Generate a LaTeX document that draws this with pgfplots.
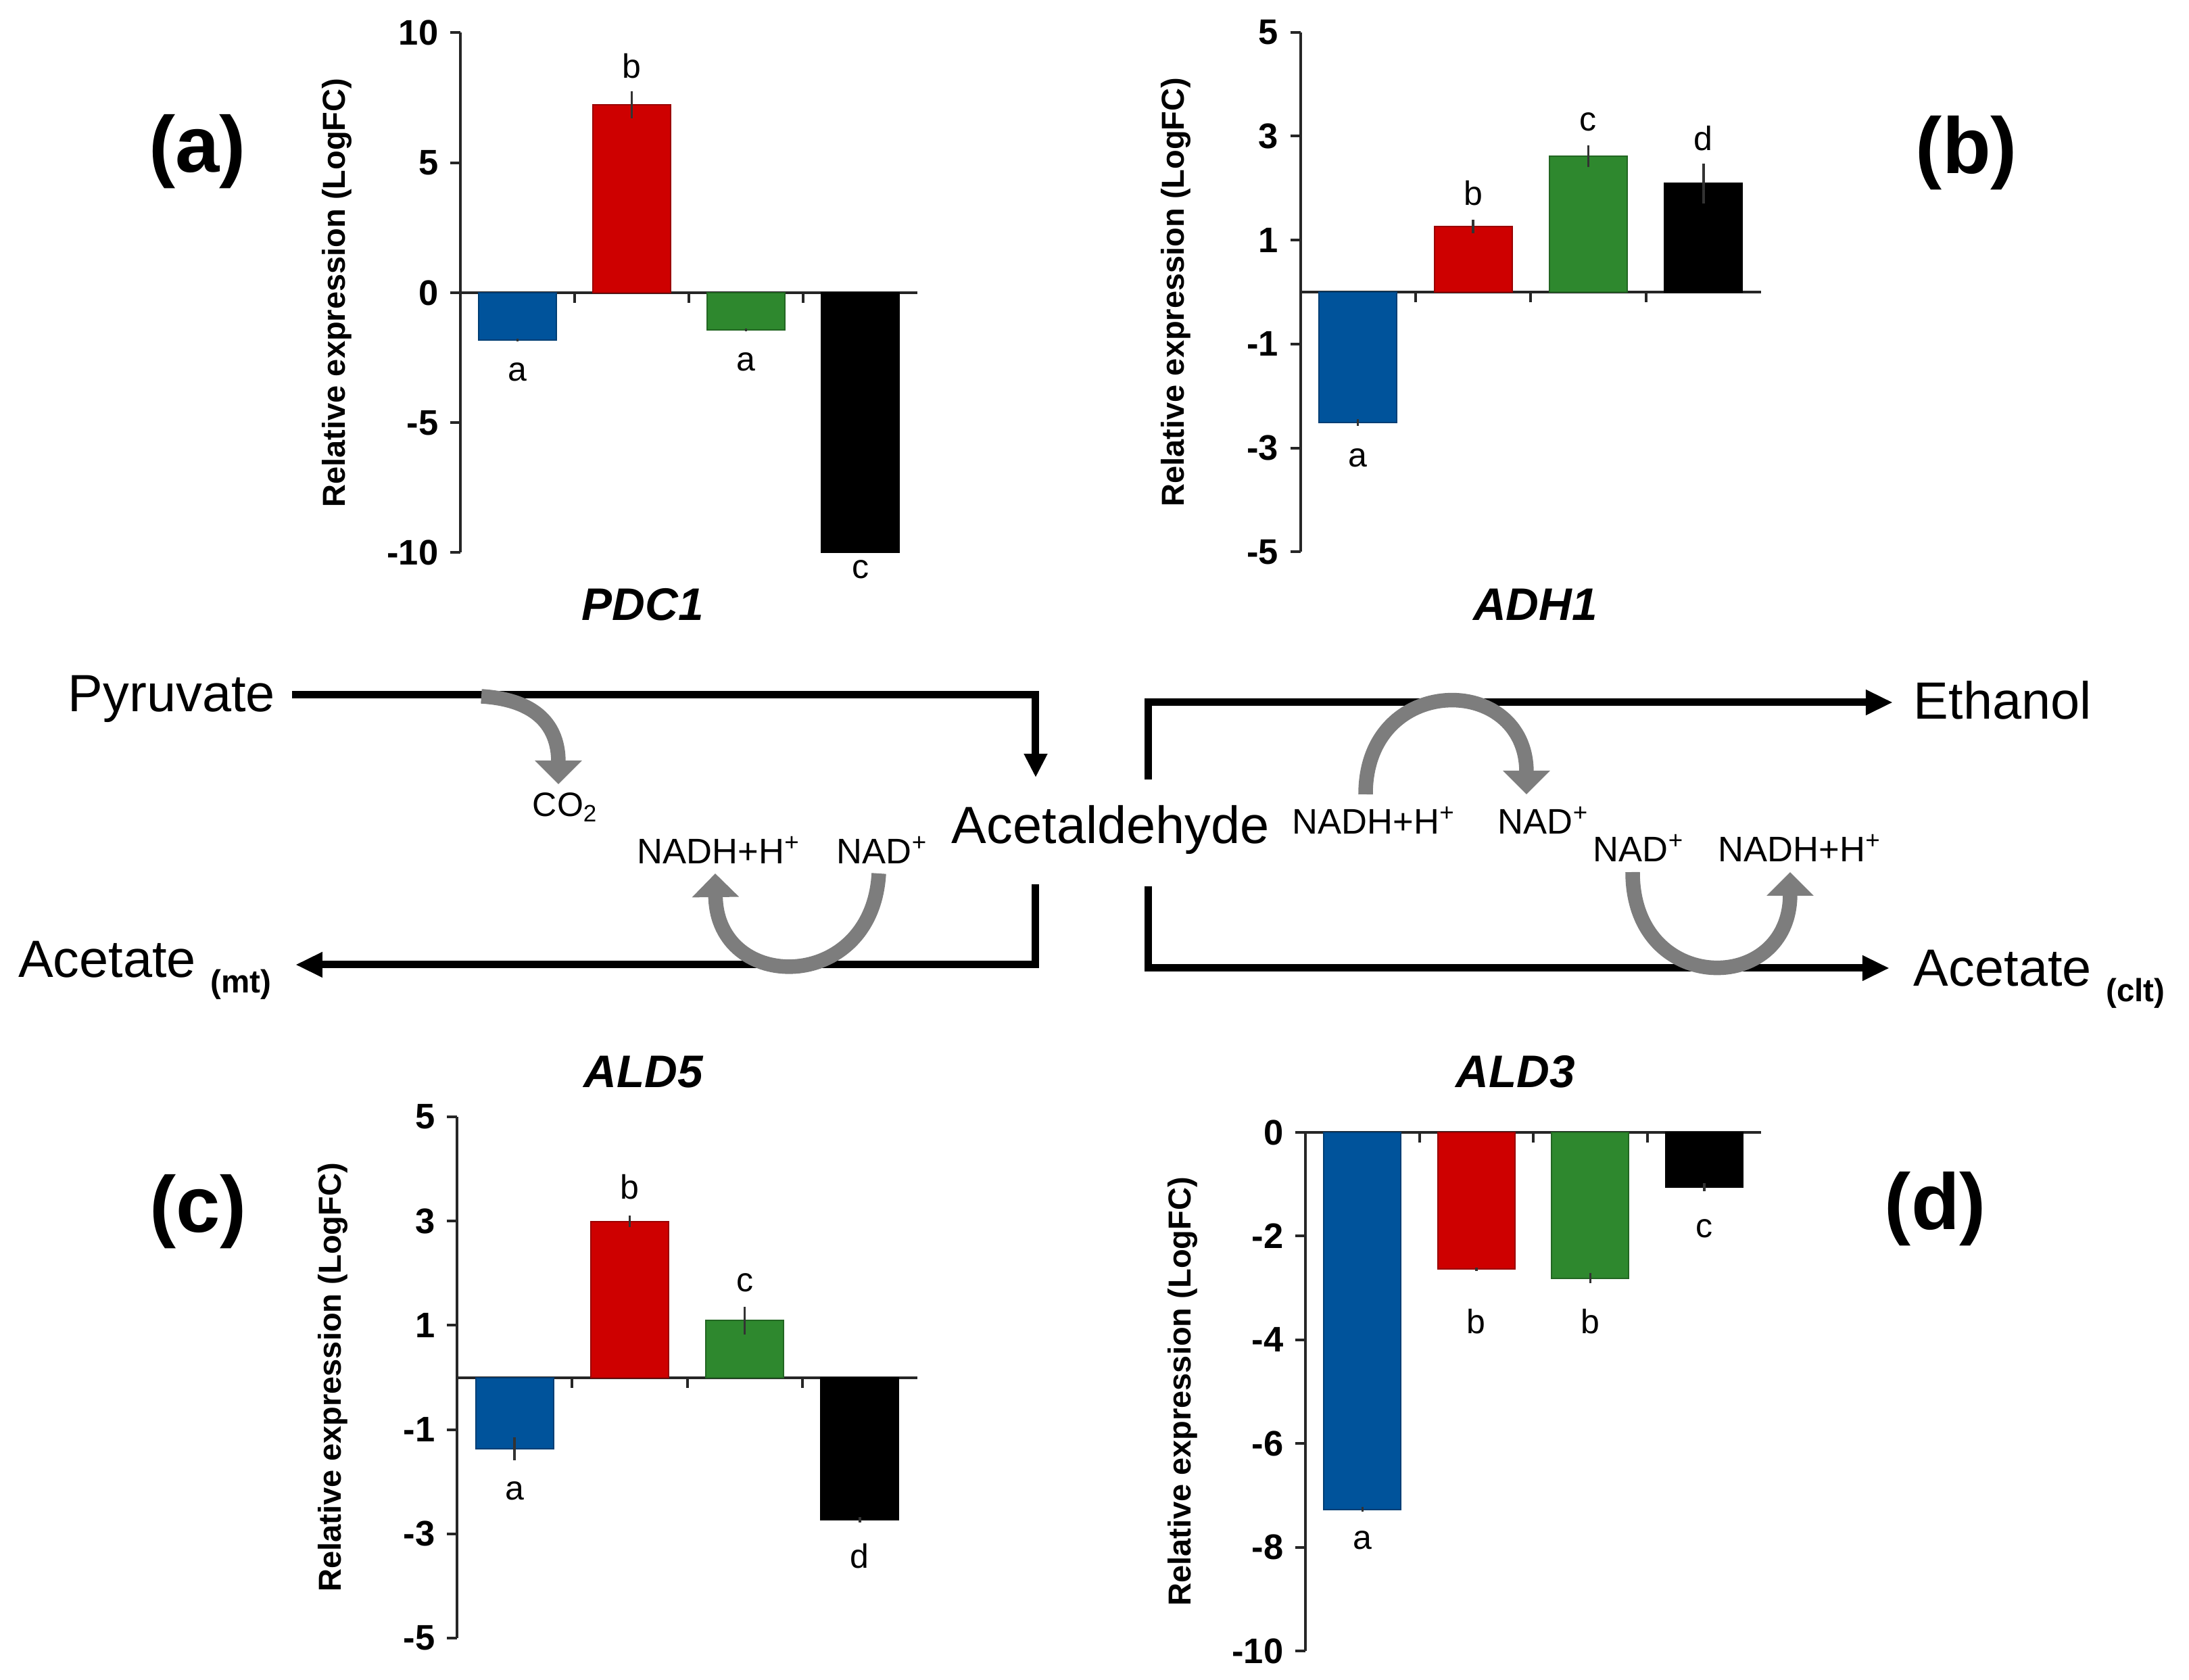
\documentclass[border=0pt]{standalone}
\usepackage{fontspec}
\setmainfont{Liberation Sans}
\usepackage{pgfplots}
\pgfplotsset{compat=1.18}
\usetikzlibrary{arrows.meta}

\definecolor{cblue}{RGB}{0,83,155}
\definecolor{cred}{RGB}{206,0,0}
\definecolor{cgreen}{RGB}{46,136,46}
\definecolor{cblack}{RGB}{0,0,0}
\definecolor{arrgray}{RGB}{125,125,125}

\pgfplotsset{
  gene/.style={
    scale only axis, height=153.8pt,
    anchor=south west,
    xmin=0.5, xmax=4.5,
    axis y line*=left, axis x line*=middle,
    xtick={1.5,2.5,3.5}, xticklabels={},
    tick align=outside, major tick length=3pt,
    axis line style={line width=0.8pt, black!85},
    every tick/.style={line width=0.8pt, black!85},
    yticklabel style={font=\fontsize{10.5}{12}\selectfont\bfseries},
    ylabel={Relative expression (LogFC)},
    ylabel style={font=\fontsize{9.4}{11}\selectfont\bfseries,
      at={(axis description cs:-0.27,0.5)}, anchor=center},
    clip=false,
  },
  gbar/.style={ybar, bar shift=0pt, bar width=0.675, fill=#1,
    draw=#1!75!black, line width=0.4pt,
    error bars/.cd, y dir=both, y explicit, error mark=none,
    error bar style={line width=0.7pt, black!80}},
}
\tikzset{
  let/.style={font=\fontsize{10}{11}\selectfont, inner sep=0pt, anchor=center},
  big/.style={font=\fontsize{15.5}{18}\selectfont, inner sep=0pt, anchor=base west},
  mid/.style={font=\fontsize{10.5}{12}\selectfont, inner sep=0pt, anchor=base west},
  gene title/.style={font=\fontsize{13.5}{15}\selectfont\bfseries\itshape, inner sep=0pt, anchor=base},
  panel/.style={font=\fontsize{23.5}{27}\selectfont\bfseries, inner sep=0pt, anchor=center},
  path line/.style={line width=2.2pt, line join=miter},
  gray arrow/.style={arrgray, line width=4.3pt, -{Triangle[length=7pt,width=13.5pt]}},
}
\newcommand{\sub}[1]{\raisebox{-4.5pt}{\fontsize{9.5}{10}\selectfont\bfseries #1}}

\begin{document}
\begin{tikzpicture}
\path[use as bounding box] (0,0) rectangle (647.6pt,-497pt);

% (a) PDC1
\begin{axis}[gene, width=135.2pt, at={(136.2pt,-163.5pt)},
  ymin=-10, ymax=10, ytick={-10,-5,0,5,10}, yticklabels={-10,-5,0,5,10}]
\addplot[gbar=cblue] coordinates {(1,-1.82) +- (0,0.05)};
\addplot[gbar=cred] coordinates {(2,7.23) +- (0,0.52)};
\addplot[gbar=cgreen] coordinates {(3,-1.42) +- (0,0.05)};
\addplot[gbar=cblack] coordinates {(4,-10) +- (0,0)};
\node[let] at (axis cs:1,-3.05) {a};
\node[let] at (axis cs:2,8.73) {b};
\node[let] at (axis cs:3,-2.66) {a};
\node[let] at (axis cs:4,-10.64) {c};
\end{axis}

% (b) ADH1
\begin{axis}[gene, width=136.3pt, at={(384.7pt,-163.3pt)},
  ymin=-5, ymax=5, ytick={-5,-3,-1,1,3,5}, yticklabels={-5,-3,-1,1,3,5}]
\addplot[gbar=cblue] coordinates {(1,-2.51) +- (0,0.06)};
\addplot[gbar=cred] coordinates {(2,1.26) +- (0,0.13)};
\addplot[gbar=cgreen] coordinates {(3,2.61) +- (0,0.21)};
\addplot[gbar=cblack] coordinates {(4,2.09) +- (0,0.38)};
\node[let] at (axis cs:1,-3.19) {a};
\node[let] at (axis cs:2,1.91) {b};
\node[let] at (axis cs:3,3.27) {c};
\node[let] at (axis cs:4,2.96) {d};
\end{axis}

% (c) ALD5
\begin{axis}[gene, width=136.2pt, height=154.2pt, at={(135.2pt,-484.6pt)},
  ymin=-5, ymax=5, ytick={-5,-3,-1,1,3,5}, yticklabels={-5,-3,-1,1,3,5}]
\addplot[gbar=cblue] coordinates {(1,-1.37) +- (0,0.22)};
\addplot[gbar=cred] coordinates {(2,2.99) +- (0,0.11)};
\addplot[gbar=cgreen] coordinates {(3,1.09) +- (0,0.26)};
\addplot[gbar=cblack] coordinates {(4,-2.73) +- (0,0.05)};
\node[let] at (axis cs:1,-2.18) {a};
\node[let] at (axis cs:2,3.66) {b};
\node[let] at (axis cs:3,1.82) {c};
\node[let] at (axis cs:4,-3.42) {d};
\end{axis}

% (d) ALD3
\begin{axis}[gene, width=134.8pt, height=153.4pt, at={(386.2pt,-488.4pt)},
  ymin=-10, ymax=0, ytick={-10,-8,-6,-4,-2,0}, yticklabels={-10,-8,-6,-4,-2,0}]
\addplot[gbar=cblue] coordinates {(1,-7.27) +- (0,0.05)};
\addplot[gbar=cred] coordinates {(2,-2.64) +- (0,0.03)};
\addplot[gbar=cgreen] coordinates {(3,-2.81) +- (0,0.10)};
\addplot[gbar=cblack] coordinates {(4,-1.06) +- (0,0.08)};
\node[let] at (axis cs:1,-7.87) {a};
\node[let] at (axis cs:2,-3.65) {b};
\node[let] at (axis cs:3,-3.65) {b};
\node[let] at (axis cs:4,-1.86) {c};
\end{axis}

% pathway scheme, in pixels of the reference
\begin{scope}[x=0.2pt, y=-0.2pt]
\draw[path line, -{Triangle[length=7pt,width=6.5pt]}] (432,1028) -- (1532,1028) -- (1532,1150);
\draw[path line, -{Triangle[length=8pt,width=7pt]}] (1532,1308) -- (1532,1427) -- (437,1427);
\draw[path line, -{Triangle[length=8pt,width=7pt]}] (1699,1153) -- (1699,1039) -- (2800,1039);
\draw[path line, -{Triangle[length=8pt,width=7pt]}] (1699,1311) -- (1699,1432) -- (2795,1432);

\draw[gray arrow] (712,1030) .. controls (795,1035) and (826,1075) .. (826,1160);
\draw[gray arrow] (1300,1292) .. controls (1290,1470) and (1060,1470) .. (1058,1292);
\draw[gray arrow] (2020,1175) .. controls (2020,995) and (2258,995) .. (2258,1175);
\draw[gray arrow] (2415,1290) .. controls (2415,1473) and (2648,1473) .. (2648,1290);

\node[big] at (100,1053) {Pyruvate};
\node[big] at (1407,1248) {Acetaldehyde};
\node[big] at (26,1446) {Acetate \sub{(mt)}};
\node[big] at (2830,1064) {Ethanol};
\node[big] at (2830,1459) {Acetate \sub{(clt)}};

\node[mid, font=\fontsize{10}{12}\selectfont] at (787,1208) {CO\textsubscript{2}};
\node[mid] at (942,1278) {NADH+H\textsuperscript{+}};
\node[mid] at (1237,1278) {NAD\textsuperscript{+}};
\node[mid] at (1911,1234) {NADH+H\textsuperscript{+}};
\node[mid] at (2215,1234) {NAD\textsuperscript{+}};
\node[mid] at (2356,1275) {NAD\textsuperscript{+}};
\node[mid] at (2541,1275) {NADH+H\textsuperscript{+}};

\node[gene title] at (951,918) {PDC1};
\node[gene title] at (2271,918) {ADH1};
\node[gene title] at (952,1609) {ALD5};
\node[gene title] at (2242,1609) {ALD3};

\node[panel] at (292,224) {(a)};
\node[panel] at (2909,226) {(b)};
\node[panel] at (293,1792) {(c)};
\node[panel] at (2863,1788) {(d)};
\end{scope}
\end{tikzpicture}
\end{document}
